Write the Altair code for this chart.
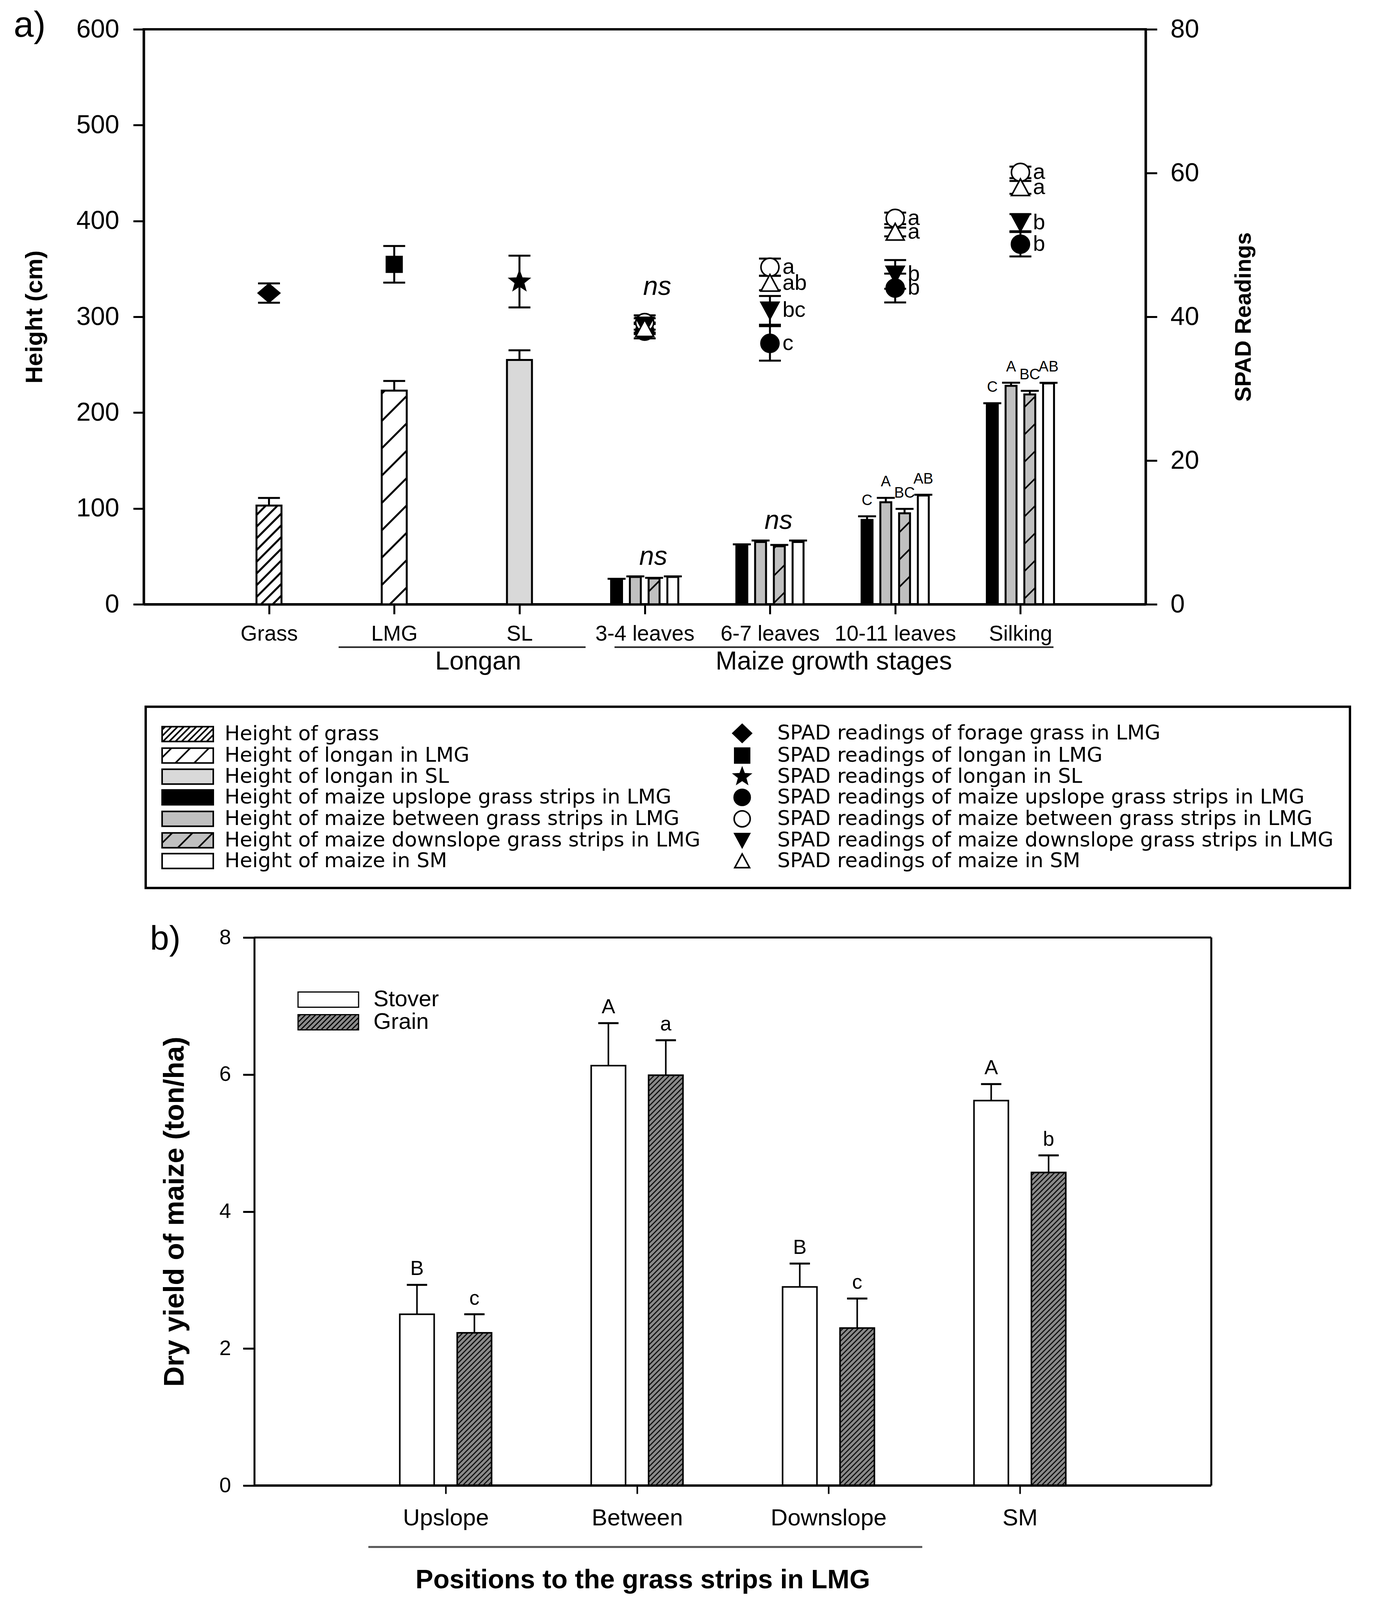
import math
import json
import pandas as pd
import altair as alt

FONT = "Liberation Sans"
LEGEND_FONT = "DejaVu Sans"

# ---------------- panel a values ----------------
categories = ["Grass", "LMG", "SL", "3-4 leaves", "6-7 leaves", "10-11 leaves", "Silking"]

single_series = ["Height of grass", "Height of longan in LMG", "Height of longan in SL"]
single_height = [103, 223, 255]
single_height_se = [8, 10, 10]

maize_stages = ["3-4 leaves", "6-7 leaves", "10-11 leaves", "Silking"]
maize_series = ["Height of maize upslope grass strips in LMG",
                "Height of maize between grass strips in LMG",
                "Height of maize downslope grass strips in LMG",
                "Height of maize in SM"]
height_upslope = [26, 62, 88, 209]
height_between = [28.5, 65, 106.5, 228]
height_downslope = [27, 60.5, 95, 219]
height_sm = [28.5, 65, 113.5, 230.5]
height_upslope_se = [0.6, 0.6, 3.8, 0.8]
height_between_se = [0.6, 1.5, 4.6, 3.2]
height_downslope_se = [0.6, 1.5, 4.6, 3.8]
height_sm_se = [0.6, 1.5, 0.8, 0.6]
height_upslope_letters = ["", "", "C", "C"]
height_between_letters = ["", "", "A", "A"]
height_downslope_letters = ["", "", "BC", "BC"]
height_sm_letters = ["", "", "AB", "AB"]
height_stage_sig = ["ns", "ns", "", ""]

single_spad_series = ["SPAD readings of forage grass in LMG",
                      "SPAD readings of longan in LMG",
                      "SPAD readings of longan in SL"]
single_spad = [43.3, 47.3, 44.9]
single_spad_se = [1.35, 2.55, 3.6]

maize_spad_series = ["SPAD readings of maize upslope grass strips in LMG",
                     "SPAD readings of maize between grass strips in LMG",
                     "SPAD readings of maize downslope grass strips in LMG",
                     "SPAD readings of maize in SM"]
spad_upslope = [38.0, 36.3, 44.0, 50.1]
spad_between = [39.2, 46.9, 53.7, 60.1]
spad_downslope = [38.8, 40.9, 45.9, 53.1]
spad_sm = [38.4, 44.7, 51.8, 58.0]
spad_upslope_se = [1.0, 2.4, 2.0, 1.7]
spad_between_se = [1.0, 1.2, 0.8, 0.8]
spad_downslope_se = [1.0, 2.0, 2.0, 1.2]
spad_sm_se = [0.8, 1.0, 0.6, 0.9]
spad_upslope_letters = ["", "c", "b", "b"]
spad_between_letters = ["", "a", "a", "a"]
spad_downslope_letters = ["", "bc", "b", "b"]
spad_sm_letters = ["", "ab", "a", "a"]
spad_stage_sig = ["ns", "", "", ""]

x_groups = ["Longan", "Maize growth stages"]

# ---------------- panel b values ----------------
positions = ["Upslope", "Between", "Downslope", "SM"]
yield_parts = ["Stover", "Grain"]
stover_yield = [2.50, 6.13, 2.90, 5.62]
stover_se = [0.43, 0.62, 0.34, 0.24]
grain_yield = [2.23, 5.99, 2.30, 4.57]
grain_se = [0.27, 0.51, 0.43, 0.25]
stover_letters = ["B", "A", "B", "A"]
grain_letters = ["c", "a", "c", "b"]
b_group_label = "Positions to the grass strips in LMG"

# ---------------- geometry ----------------
# the photographed page is 4096 px tall, so every vertical distance is scaled by K
K = 4096 / 4993

A_W, A_XMAX, A_YMAX, A_Y2MAX = 2565, 8, 600, 80
A_H = round(1794 * K)
A_SX = A_W / A_XMAX
A_SY = A_H / A_YMAX
SINGLE_BAR_PX, SINGLE_CAP_PX = 64, 56
MAIZE_BAR_PX, MAIZE_STEP_PX, MAIZE_CAP_PX = 28, 48, 46
SPAD_CAP_PX = 56
A_GROUP_SPAN = [(1.556, 3.528, 2.67), (3.759, 7.264, 5.51)]
A_BRACKET_Y, A_GROUP_LABEL_Y = 1928 * K, 1974 * K

B_PLOT_W, B_EXT, B_XMAX, B_YMAX = 2450, 283, 5, 8
B_H = round(1710 * K)
B_SX = B_PLOT_W / B_XMAX
B_SY = B_H / B_YMAX
B_XMIN = -B_EXT / B_SX
B_W = B_PLOT_W + B_EXT
B_BAR_PX, B_CAP_PX = 88, 52
B_OFFSET = {"Stover": -0.15, "Grain": 0.15}
B_GROUP_SPAN = (0.596, 3.49, 2.03)
B_BRACKET_Y, B_GROUP_LABEL_Y = 1902 * K, 2016 * K - 8

LEG_FONT = 52
LEG_PAD = 42

# ---------------- styles ----------------
BAR_STYLE = {
    single_series[0]: dict(fill="white", hatch=30, hw=5, lh=16),
    single_series[1]: dict(fill="white", hatch=70, hw=5, lh=48),
    single_series[2]: dict(fill="#d9d9d9", hatch=None, hw=0, lh=None),
    maize_series[0]: dict(fill="black", hatch=None, hw=0, lh=None),
    maize_series[1]: dict(fill="#c0c0c0", hatch=None, hw=0, lh=None),
    maize_series[2]: dict(fill="#c0c0c0", hatch=70, hw=4, lh=52),
    maize_series[3]: dict(fill="white", hatch=None, hw=0, lh=None),
}
MARKER = {
    single_spad_series[0]: ("diamond", "black", 55),
    single_spad_series[1]: ("square", "black", 40),
    single_spad_series[2]: ("star", "black", 52),
    maize_spad_series[0]: ("circle", "black", 46),
    maize_spad_series[1]: ("circle", "white", 46),
    maize_spad_series[2]: ("tri_down", "black", 46),
    maize_spad_series[3]: ("tri_up", "white", 46),
}
B_STYLE = {"Stover": dict(fill="white", hatch=None), "Grain": dict(fill="#8a8a8a", hatch=13)}


def f3(v):
    return f"{v:.3f}"


def marker_path(kind, cx=0.0, big=False):
    if kind == "diamond":
        hw, hh = (1.25, 1.2) if big else (1.0, 0.85)
        return f"M{f3(cx)},{f3(-hh)}L{f3(cx + hw)},0L{f3(cx)},{f3(hh)}L{f3(cx - hw)},0Z"
    if kind == "square":
        h = 1.0
        return f"M{f3(cx - h)},{f3(-h)}H{f3(cx + h)}V{f3(h)}H{f3(cx - h)}Z"
    if kind == "circle":
        r = 1.08 if big else 1.0
        return (f"M{f3(cx + r)},0A{r},{r} 0 1,1 {f3(cx - r)},0"
                f"A{r},{r} 0 1,1 {f3(cx + r)},0Z")
    if kind == "tri_up":
        return f"M{f3(cx)},-0.95L{f3(cx + 1)},0.9L{f3(cx - 1)},0.9Z"
    if kind == "tri_down":
        return f"M{f3(cx - 1)},-0.9L{f3(cx + 1)},-0.9L{f3(cx)},0.95Z"
    if kind == "star":
        ro = 1.15 if big else 1.0
        ri = ro * 0.42
        pts = []
        for i in range(10):
            ang = -math.pi / 2 + i * math.pi / 5
            rr = ro if i % 2 == 0 else ri
            pts.append(f"{f3(cx + rr * math.cos(ang))},{f3(rr * math.sin(ang))}")
        return "M" + "L".join(pts) + "Z"
    raise ValueError(kind)


def swatch_path(xl, xr, yt, yb, spacing=None):
    p = f"M{f3(xl)},{f3(yt)}H{f3(xr)}V{f3(yb)}H{f3(xl)}Z"
    if spacing:
        c = xl + yt + spacing * 0.5
        while c < xr + yb:
            xa_ = max(xl, c - yb)
            xb_ = min(xr, c - yt)
            if xb_ - xa_ > 0.05:
                p += f"M{f3(xa_)},{f3(c - xa_)}L{f3(xb_)},{f3(c - xb_)}"
            c += spacing
    return p


def hatch_segments(x0, x1, y0, y1, sx, sy, spacing):
    X0, X1, Y0, Y1 = x0 * sx, x1 * sx, y0 * sy, y1 * sy
    out = []
    k0 = math.floor((Y0 - X1) / spacing)
    k1 = math.ceil((Y1 - X0) / spacing)
    for k in range(k0, k1 + 1):
        c = k * spacing
        a = max(X0, Y0 - c)
        b = min(X1, Y1 - c)
        if b - a > 1:
            out.append((a / sx, (a + c) / sy, b / sx, (b + c) / sy))
    return out


# ---------------- panel a tables ----------------
rows = []
for s, cat, v, se in zip(single_series, categories[:3], single_height, single_height_se):
    rows.append(dict(series=s, stage=cat, xc=categories.index(cat) + 1.0, wpx=SINGLE_BAR_PX,
                     cappx=SINGLE_CAP_PX, value=v, se=se, letter=""))
m_vals = [height_upslope, height_between, height_downslope, height_sm]
m_ses = [height_upslope_se, height_between_se, height_downslope_se, height_sm_se]
m_lets = [height_upslope_letters, height_between_letters, height_downslope_letters, height_sm_letters]
for j, s in enumerate(maize_series):
    for k, st in enumerate(maize_stages):
        xc = categories.index(st) + 1 + (j - 1.5) * MAIZE_STEP_PX / A_SX
        rows.append(dict(series=s, stage=st, xc=xc, wpx=MAIZE_BAR_PX, cappx=MAIZE_CAP_PX,
                         value=m_vals[j][k], se=m_ses[j][k], letter=m_lets[j][k]))
bars_a = pd.DataFrame(rows)
bars_a["x0"] = bars_a.xc - bars_a.wpx / 2 / A_SX
bars_a["x1"] = bars_a.xc + bars_a.wpx / 2 / A_SX
bars_a["base"] = 0.0
bars_a["top"] = bars_a.value + bars_a.se
bars_a["cx0"] = bars_a.xc - bars_a.cappx / 2 / A_SX
bars_a["cx1"] = bars_a.xc + bars_a.cappx / 2 / A_SX
bars_a["fill"] = [BAR_STYLE[s]["fill"] for s in bars_a.series]

hrows = []
for r in bars_a.itertuples():
    st = BAR_STYLE[r.series]
    if st["hatch"]:
        for a, b, c, d in hatch_segments(r.x0, r.x1, 0.0, r.value, A_SX, A_SY, st["hatch"]):
            hrows.append(dict(hx0=a, hy0=b, hx1=c, hy1=d, sw=st["hw"]))
hatch_a = pd.DataFrame(hrows)

ns_a = pd.DataFrame([dict(x=categories.index(st) + 1.0,
                          y=bars_a[bars_a.stage == st].top.max(), t=height_stage_sig[k])
                     for k, st in enumerate(maize_stages) if height_stage_sig[k]])

srows = []
for s, cat, v, se in zip(single_spad_series, categories[:3], single_spad, single_spad_se):
    srows.append(dict(series=s, stage=cat, xc=categories.index(cat) + 1.0, v=v, se=se, letter=""))
s_vals = [spad_upslope, spad_between, spad_downslope, spad_sm]
s_ses = [spad_upslope_se, spad_between_se, spad_downslope_se, spad_sm_se]
s_lets = [spad_upslope_letters, spad_between_letters, spad_downslope_letters, spad_sm_letters]
for j, s in enumerate(maize_spad_series):
    for k, st in enumerate(maize_stages):
        srows.append(dict(series=s, stage=st, xc=categories.index(st) + 1.0,
                          v=s_vals[j][k], se=s_ses[j][k], letter=s_lets[j][k]))
spad = pd.DataFrame(srows)
spad["lo"] = spad.v - spad.se
spad["hi"] = spad.v + spad.se
spad["cx0"] = spad.xc - SPAD_CAP_PX / 2 / A_SX
spad["cx1"] = spad.xc + SPAD_CAP_PX / 2 / A_SX
spad["shape"] = [marker_path(MARKER[s][0]) for s in spad.series]
spad["fill"] = [MARKER[s][1] for s in spad.series]
spad["size"] = [MARKER[s][2] ** 2 for s in spad.series]
spad_caps = pd.concat([spad.assign(cy=spad.lo), spad.assign(cy=spad.hi)], ignore_index=True)
ns_s = pd.DataFrame([dict(x=categories.index(st) + 1.0,
                          y=spad[spad.stage == st].hi.max(), t=spad_stage_sig[k])
                     for k, st in enumerate(maize_stages) if spad_stage_sig[k]])

groups_a = pd.DataFrame([dict(label=g, x0=s[0], x1=s[1], xl=s[2]) for g, s in zip(x_groups, A_GROUP_SPAN)])

# legend entries: column-major, heights in the left column, SPAD in the right one
LR = 19.0
sym_c = LEG_FONT / 2.0
sw_xl = -sym_c / LR
sw_xr = sw_xl + 131 / LR
height_legend = single_series + maize_series
spad_legend = single_spad_series + maize_spad_series
legend_entries = height_legend + spad_legend
legend_paths = ([swatch_path(sw_xl, sw_xr, -1, 1, BAR_STYLE[h]["lh"] / LR if BAR_STYLE[h]["lh"] else None)
                 for h in height_legend] +
                [marker_path(MARKER[s][0], cx=(70 - sym_c) / LR, big=True) for s in spad_legend])
legend_fills = [BAR_STYLE[h]["fill"] for h in height_legend] + [MARKER[s][1] for s in spad_legend]

# ---------------- panel b tables ----------------
brows = []
for part, vals, ses, lets in [("Stover", stover_yield, stover_se, stover_letters),
                              ("Grain", grain_yield, grain_se, grain_letters)]:
    for i, pos in enumerate(positions):
        xc = i + 1 + B_OFFSET[part]
        brows.append(dict(part=part, pos=pos, xc=xc, value=vals[i], se=ses[i], letter=lets[i]))
bars_b = pd.DataFrame(brows)
bars_b["x0"] = bars_b.xc - B_BAR_PX / 2 / B_SX
bars_b["x1"] = bars_b.xc + B_BAR_PX / 2 / B_SX
bars_b["base"] = 0.0
bars_b["top"] = bars_b.value + bars_b.se
bars_b["cx0"] = bars_b.xc - B_CAP_PX / 2 / B_SX
bars_b["cx1"] = bars_b.xc + B_CAP_PX / 2 / B_SX
bars_b["fill"] = [B_STYLE[p]["fill"] for p in bars_b.part]

hb = []
for r in bars_b.itertuples():
    sp = B_STYLE[r.part]["hatch"]
    if sp:
        for a, b, c, d in hatch_segments(r.x0, r.x1, 0.0, r.value, B_SX, B_SY, sp):
            hb.append(dict(hx0=a, hy0=b, hx1=c, hy1=d))
hatch_b = pd.DataFrame(hb)

frame_b = pd.DataFrame(dict(x0=[0, 0, B_XMAX], y0=[0, B_YMAX, 0],
                            x1=[B_XMAX, B_XMAX, B_XMAX], y1=[0, B_YMAX, B_YMAX], sw=[6, 5, 5]))
groups_b = pd.DataFrame([dict(label=b_group_label, x0=B_GROUP_SPAN[0], x1=B_GROUP_SPAN[1], xl=B_GROUP_SPAN[2])])

B_LEG_FONT = 58
BR = 19.5
b_sym_c = B_LEG_FONT / 2.0
bxl = -b_sym_c / BR
bxr = bxl + 155 / BR
b_legend_paths = [swatch_path(bxl, bxr, -1, 1, (B_STYLE[p]["hatch"] / BR) if B_STYLE[p]["hatch"] else None)
                  for p in yield_parts]
b_legend_fills = [B_STYLE[p]["fill"] for p in yield_parts]

# ---------------- scales / axes ----------------
XA = alt.Scale(domain=[0, A_XMAX], nice=False, zero=False)
YA = alt.Scale(domain=[0, A_YMAX], nice=False, zero=False)
YS = alt.Scale(domain=[0, A_Y2MAX], nice=False, zero=False)
XB = alt.Scale(domain=[B_XMIN, B_XMAX], nice=False, zero=False)
YB = alt.Scale(domain=[0, B_YMAX], nice=False, zero=False)

X_AXIS_A = alt.Axis(values=list(range(1, 8)), labelExpr=json.dumps([""] + categories) + "[datum.value]",
                    title=None, grid=False, tickSize=25, tickWidth=5, tickColor="black",
                    domainWidth=6, domainColor="black", labelFont=FONT, labelFontSize=55,
                    labelColor="black", labelPadding=24, labelAngle=0, labelFlush=False,
                    labelOverlap=False, labelLimit=1000)
Y_AXIS_A = alt.Axis(values=list(range(0, 601, 100)), orient="left", title="Height (cm)",
                    titleFont=FONT, titleFontSize=62, titleFontWeight="bold", titleColor="black",
                    titlePadding=74, grid=False, tickSize=27, tickWidth=5, tickColor="black",
                    domainWidth=6, domainColor="black", labelFont=FONT, labelFontSize=66,
                    labelColor="black", labelPadding=36)
Y_AXIS_S = alt.Axis(values=[0, 20, 40, 60, 80], orient="right", title="SPAD Readings",
                    titleFont=FONT, titleFontSize=58, titleFontWeight="bold", titleColor="black",
                    titleAngle=270, titleBaseline="top", titlePadding=86, grid=False,
                    tickSize=29, tickWidth=5, tickColor="black", domainWidth=6, domainColor="black",
                    labelFont=FONT, labelFontSize=66, labelColor="black", labelPadding=34)
X_AXIS_B = alt.Axis(values=[1, 2, 3, 4], labelExpr=json.dumps([""] + positions) + "[datum.value]",
                    domain=False, title=None, grid=False, tickSize=21, tickWidth=4, tickColor="black",
                    labelFont=FONT, labelFontSize=60, labelColor="black", labelPadding=33,
                    labelAngle=0, labelFlush=False, labelOverlap=False, labelLimit=1000)
Y_AXIS_B = alt.Axis(values=[0, 2, 4, 6, 8], orient="left", offset=-B_EXT, title="Dry yield of maize (ton/ha)",
                    titleFont=FONT, titleFontSize=72, titleFontWeight="bold", titleColor="black",
                    titlePadding=76, grid=False, tickSize=29, tickWidth=5, tickColor="black",
                    domainWidth=5, domainColor="black", labelFont=FONT, labelFontSize=54,
                    labelColor="black", labelPadding=31)


def xa(f):
    return alt.X(f, type="quantitative", scale=XA, axis=X_AXIS_A)


def ya(f):
    return alt.Y(f, type="quantitative", scale=YA, axis=Y_AXIS_A)


def ys(f):
    return alt.Y(f, type="quantitative", scale=YS, axis=Y_AXIS_S)


def xb(f):
    return alt.X(f, type="quantitative", scale=XB, axis=X_AXIS_B)


def yb(f):
    return alt.Y(f, type="quantitative", scale=YB, axis=Y_AXIS_B)


# ---------------- panel a ----------------
h_layers = [
    alt.Chart(bars_a).mark_rect(opacity=1, strokeWidth=0).encode(
        x=xa("x0"), x2="x1", y=ya("value"), y2="base",
        fill=alt.Fill("fill:N", scale=None)),
    alt.Chart(hatch_a).mark_rule(color="black", opacity=1).encode(
        x=xa("hx0"), y=ya("hy0"), x2="hx1", y2="hy1",
        strokeWidth=alt.StrokeWidth("sw:Q", scale=None)),
    alt.Chart(bars_a).mark_rect(fill="transparent", stroke="black", strokeWidth=5, opacity=1).encode(
        x=xa("x0"), x2="x1", y=ya("value"), y2="base"),
    alt.Chart(bars_a).mark_rule(color="black", strokeWidth=5, opacity=1).encode(
        x=xa("xc"), y=ya("value"), y2="top"),
    alt.Chart(bars_a).mark_rule(color="black", strokeWidth=5, opacity=1).encode(
        x=xa("cx0"), x2="cx1", y=ya("top")),
    alt.Chart(bars_a[bars_a.letter != ""]).mark_text(
        font=FONT, fontSize=38, align="center", baseline="alphabetic", dy=-29, color="black").encode(
        x=xa("xc"), y=ya("top"), text="letter:N"),
    alt.Chart(ns_a).mark_text(
        font=FONT, fontSize=68, fontStyle="italic", align="center", baseline="alphabetic",
        dx=22, dy=-30, color="black").encode(x=xa("x"), y=ya("y"), text="t:N"),
    alt.Chart(groups_a).mark_rule(color="#222222", strokeWidth=4).encode(
        x=xa("x0"), x2="x1", y=alt.value(A_BRACKET_Y)),
    alt.Chart(groups_a).mark_text(font=FONT, fontSize=66, align="center", baseline="middle",
                                  color="black").encode(
        x=xa("xl"), y=alt.value(A_GROUP_LABEL_Y), text="label:N"),
    alt.Chart(pd.DataFrame({"t": ["a)"]})).mark_text(
        font=FONT, fontSize=92, align="left", baseline="alphabetic", color="black").encode(
        x=alt.value(-333), y=alt.value(23 * K), text="t:N"),
]

legend_a = alt.Legend(title=None, orient="none", legendX=5, legendY=2114 * K,
                      columns=2, direction="vertical", gridAlign="each", labelFont=LEGEND_FONT,
                      labelFontSize=LEG_FONT, labelColor="black", labelLimit=4000,
                      labelOffset=160 - LEG_FONT, symbolSize=int((2 * LR) ** 2),
                      symbolStrokeColor="black", symbolStrokeWidth=4, symbolOpacity=1,
                      rowPadding=-3, columnPadding=36, padding=LEG_PAD, strokeColor="black",
                      fillColor="white")
h_layers.append(
    alt.Chart(pd.DataFrame({"entry": legend_entries})).transform_filter("false").mark_point(
        filled=True, opacity=1, stroke="black", strokeWidth=4, size=int((2 * LR) ** 2)).encode(
        shape=alt.Shape("entry:N", scale=alt.Scale(domain=legend_entries, range=legend_paths), legend=legend_a),
        fill=alt.Fill("entry:N", scale=alt.Scale(domain=legend_entries, range=legend_fills), legend=legend_a))
)

s_layers = [
    alt.Chart(spad).mark_rule(color="black", strokeWidth=5, opacity=1).encode(
        x=xa("xc"), y=ys("lo"), y2="hi"),
    alt.Chart(spad_caps).mark_rule(color="black", strokeWidth=5, opacity=1).encode(
        x=xa("cx0"), x2="cx1", y=ys("cy")),
    alt.Chart(spad).mark_point(filled=True, opacity=1, stroke="black", strokeWidth=4).encode(
        x=xa("xc"), y=ys("v"), shape=alt.Shape("shape:N", scale=None),
        fill=alt.Fill("fill:N", scale=None), size=alt.Size("size:Q", scale=None)),
    alt.Chart(spad[spad.letter != ""]).mark_text(
        font=FONT, fontSize=56, align="left", baseline="middle", dx=32, color="black").encode(
        x=xa("xc"), y=ys("v"), text="letter:N"),
    alt.Chart(ns_s).mark_text(
        font=FONT, fontSize=68, fontStyle="italic", align="center", baseline="alphabetic",
        dx=32, dy=-52, color="black").encode(x=xa("x"), y=ys("y"), text="t:N"),
]

panel_a = alt.layer(alt.layer(*h_layers), alt.layer(*s_layers)).resolve_scale(
    y="independent").properties(width=A_W, height=A_H,
                                view=alt.ViewBackground(stroke="black", strokeWidth=6))

# ---------------- panel b ----------------
legend_b = alt.Legend(title=None, orient="none", legendX=395, legendY=130, direction="vertical",
                      labelFont=FONT, labelFontSize=B_LEG_FONT, labelColor="black", labelLimit=2000,
                      labelOffset=193 - B_LEG_FONT, symbolSize=int((2 * BR) ** 2), symbolStrokeColor="black",
                      symbolStrokeWidth=3, symbolOpacity=1, rowPadding=0, padding=0)

b_layers = [
    alt.Chart(bars_b).mark_rect(opacity=1, strokeWidth=0).encode(
        x=xb("x0"), x2="x1", y=yb("value"), y2="base",
        fill=alt.Fill("fill:N", scale=None)),
    alt.Chart(hatch_b).mark_rule(color="#111111", strokeWidth=3, opacity=1).encode(
        x=xb("hx0"), y=yb("hy0"), x2="hx1", y2="hy1"),
    alt.Chart(bars_b).mark_rect(fill="transparent", stroke="black", strokeWidth=4, opacity=1).encode(
        x=xb("x0"), x2="x1", y=yb("value"), y2="base"),
    alt.Chart(bars_b).mark_rule(color="black", strokeWidth=4, opacity=1).encode(
        x=xb("xc"), y=yb("value"), y2="top"),
    alt.Chart(bars_b).mark_rule(color="black", strokeWidth=5, opacity=1).encode(
        x=xb("cx0"), x2="cx1", y=yb("top")),
    alt.Chart(bars_b).mark_text(font=FONT, fontSize=52, align="center", baseline="alphabetic",
                                dy=-25, color="black").encode(
        x=xb("xc"), y=yb("top"), text="letter:N"),
    alt.Chart(frame_b).mark_rule(color="black", opacity=1).encode(
        x=xb("x0"), y=yb("y0"), x2="x1", y2="y1", strokeWidth=alt.StrokeWidth("sw:Q", scale=None)),
    alt.Chart(groups_b).mark_rule(color="#555555", strokeWidth=5).encode(
        x=xb("x0"), x2="x1", y=alt.value(B_BRACKET_Y)),
    alt.Chart(groups_b).mark_text(font=FONT, fontSize=68, fontWeight="bold", align="center",
                                  baseline="middle", color="black").encode(
        x=xb("xl"), y=alt.value(B_GROUP_LABEL_Y), text="label:N"),
    alt.Chart(pd.DataFrame({"t": ["b)"]})).mark_text(
        font=FONT, fontSize=88, align="left", baseline="alphabetic", color="black").encode(
        x=alt.value(16), y=alt.value(38 * K), text="t:N"),
    alt.Chart(pd.DataFrame({"part": yield_parts})).transform_filter("false").mark_point(
        filled=True, opacity=1, stroke="black", strokeWidth=3, size=int((2 * BR) ** 2)).encode(
        shape=alt.Shape("part:N", scale=alt.Scale(domain=yield_parts, range=b_legend_paths), legend=legend_b),
        fill=alt.Fill("part:N", scale=alt.Scale(domain=yield_parts, range=b_legend_fills), legend=legend_b)),
]

panel_b = alt.layer(*b_layers).properties(width=B_W, height=B_H,
                                          view=alt.ViewBackground(stroke="transparent"))

chart = alt.vconcat(panel_a, panel_b, spacing=80).resolve_scale(
    shape="independent", fill="independent"
).resolve_legend(
    shape="independent", fill="independent"
).properties(
    padding={"left": 24, "top": 8, "right": 0, "bottom": 0}, background="white"
).configure_legend(strokeWidth=6)

chart.save("out.html", embed_options={"renderer": "svg", "actions": False})
